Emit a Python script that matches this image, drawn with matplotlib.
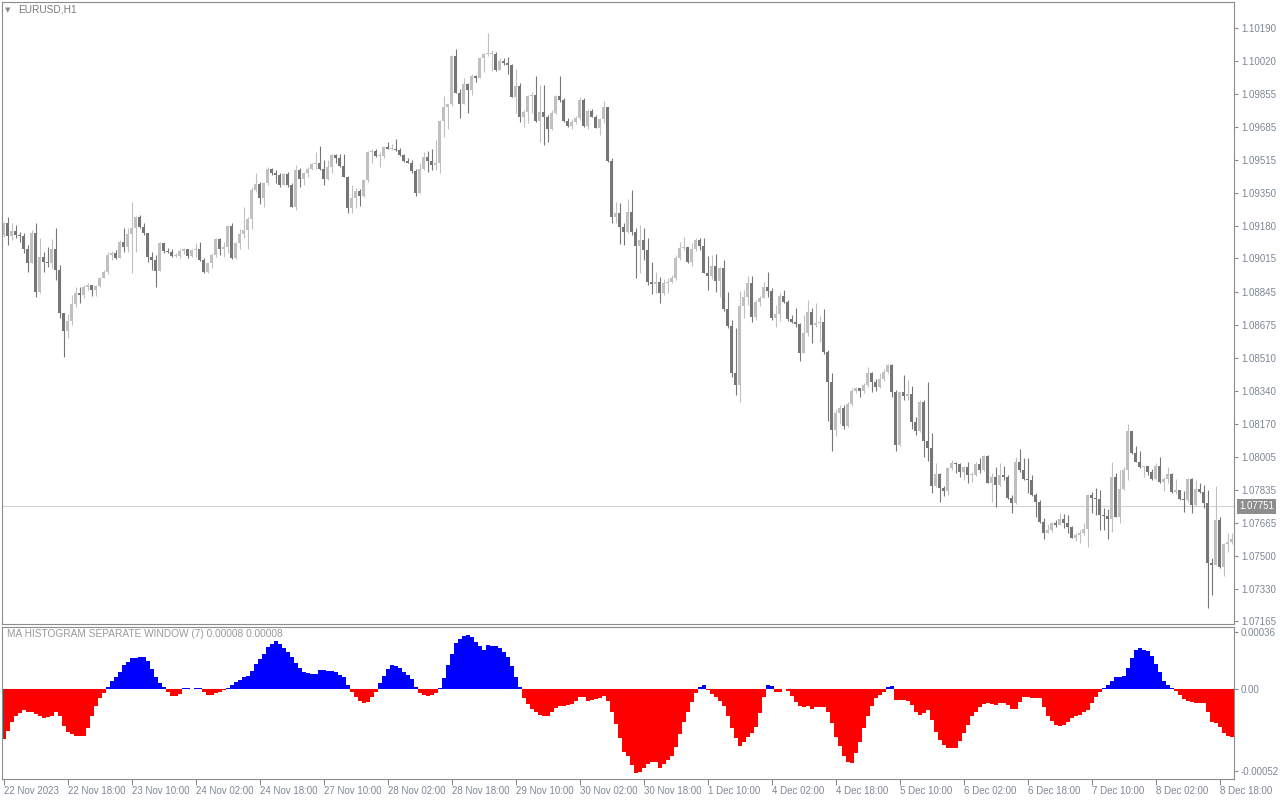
import numpy as np
import matplotlib.pyplot as plt

# EURUSD H1 candles (open of each bar = previous close)
first_open = 1.09134
closes = [
    1.09196, 1.09129, 1.09155, 1.09134, 1.09129, 1.09063, 1.08992, 1.09145, 1.08844, 1.09022,
    1.08997, 1.08992, 1.09063, 1.08956, 1.08737, 1.08645, 1.08696, 1.08783, 1.08839, 1.08828,
    1.08869, 1.08879, 1.08854, 1.08874, 1.08915, 1.08946, 1.09032, 1.09043, 1.09017, 1.09099,
    1.09073, 1.09140, 1.09170, 1.09226, 1.09175, 1.09145, 1.09022, 1.09007, 1.08951, 1.09094,
    1.09053, 1.09048, 1.09027, 1.09027, 1.09053, 1.09063, 1.09027, 1.09058, 1.09063, 1.09007,
    1.08946, 1.08992, 1.09032, 1.09114, 1.09063, 1.09073, 1.09180, 1.09017, 1.09094, 1.09140,
    1.09160, 1.09216, 1.09364, 1.09395, 1.09323, 1.09400, 1.09471, 1.09451, 1.09440, 1.09389,
    1.09446, 1.09389, 1.09277, 1.09466, 1.09420, 1.09451, 1.09471, 1.09497, 1.09502, 1.09471,
    1.09420, 1.09481, 1.09542, 1.09527, 1.09486, 1.09430, 1.09272, 1.09323, 1.09359, 1.09333,
    1.09415, 1.09558, 1.09563, 1.09537, 1.09537, 1.09583, 1.09573, 1.09573, 1.09568, 1.09542,
    1.09512, 1.09502, 1.09461, 1.09349, 1.09471, 1.09532, 1.09512, 1.09491, 1.09502, 1.09716,
    1.09787, 1.09803, 1.10047, 1.09859, 1.09803, 1.09905, 1.09874, 1.09945, 1.09935, 1.10037,
    1.10058, 1.10058, 1.10058, 1.09976, 1.10022, 1.10012, 1.10001, 1.09838, 1.09894, 1.09736,
    1.09762, 1.09843, 1.09848, 1.09716, 1.09762, 1.09736, 1.09675, 1.09757, 1.09843, 1.09823,
    1.09716, 1.09690, 1.09711, 1.09731, 1.09823, 1.09690, 1.09767, 1.09736, 1.09680, 1.09726,
    1.09787, 1.09512, 1.09226, 1.09247, 1.09175, 1.09150, 1.09252, 1.09150, 1.09078, 1.09109,
    1.09058, 1.08895, 1.08885, 1.08895, 1.08839, 1.08890, 1.08895, 1.08915, 1.09017, 1.09068,
    1.09073, 1.08997, 1.09063, 1.09109, 1.09078, 1.08941, 1.08925, 1.08976, 1.08900, 1.08966,
    1.08757, 1.08670, 1.08431, 1.08369, 1.08772, 1.08818, 1.08890, 1.08716, 1.08793, 1.08813,
    1.08869, 1.08849, 1.08711, 1.08732, 1.08823, 1.08793, 1.08706, 1.08691, 1.08681, 1.08533,
    1.08635, 1.08742, 1.08675, 1.08686, 1.08691, 1.08538, 1.08385, 1.08140, 1.08227, 1.08252,
    1.08160, 1.08273, 1.08339, 1.08354, 1.08339, 1.08369, 1.08431, 1.08385, 1.08359, 1.08400,
    1.08436, 1.08471, 1.08334, 1.08063, 1.08334, 1.08313, 1.08324, 1.08181, 1.08135, 1.08283,
    1.08084, 1.08048, 1.07854, 1.07916, 1.07844, 1.07829, 1.07946, 1.07972, 1.07967, 1.07926,
    1.07951, 1.07910, 1.07910, 1.07967, 1.07936, 1.08007, 1.07870, 1.07900, 1.07859, 1.07910,
    1.07900, 1.07793, 1.07768, 1.07977, 1.07936, 1.07890, 1.07885, 1.07808, 1.07773, 1.07671,
    1.07615, 1.07630, 1.07666, 1.07655, 1.07686, 1.07666, 1.07645, 1.07589, 1.07604, 1.07615,
    1.07635, 1.07808, 1.07793, 1.07788, 1.07706, 1.07701, 1.07686, 1.07900, 1.07696, 1.07839,
    1.07936, 1.08135, 1.08023, 1.07977, 1.07951, 1.07956, 1.07926, 1.07890, 1.07956, 1.07875,
    1.07890, 1.07916, 1.07824, 1.07834, 1.07788, 1.07783, 1.07890, 1.07757, 1.07839, 1.07824,
    1.07768, 1.07462, 1.07451, 1.07681, 1.07441, 1.07559, 1.07569, 1.07584,
]
highs = [
    1.09201, 1.09226, 1.09196, 1.09185, 1.09150, 1.09145, 1.09083, 1.09160, 1.09196, 1.09119,
    1.09048, 1.09073, 1.09114, 1.09170, 1.08981, 1.08737, 1.08732, 1.08828, 1.08869, 1.08869,
    1.08879, 1.08890, 1.08879, 1.08879, 1.08920, 1.08956, 1.09048, 1.09053, 1.09058, 1.09109,
    1.09170, 1.09170, 1.09303, 1.09231, 1.09236, 1.09196, 1.09145, 1.09048, 1.09032, 1.09099,
    1.09094, 1.09068, 1.09063, 1.09043, 1.09063, 1.09068, 1.09063, 1.09063, 1.09094, 1.09099,
    1.09017, 1.08992, 1.09043, 1.09119, 1.09119, 1.09099, 1.09185, 1.09196, 1.09099, 1.09165,
    1.09277, 1.09226, 1.09379, 1.09451, 1.09405, 1.09405, 1.09481, 1.09476, 1.09466, 1.09451,
    1.09451, 1.09456, 1.09400, 1.09491, 1.09476, 1.09456, 1.09481, 1.09502, 1.09558, 1.09588,
    1.09517, 1.09517, 1.09548, 1.09548, 1.09548, 1.09548, 1.09435, 1.09389, 1.09374, 1.09369,
    1.09420, 1.09563, 1.09573, 1.09573, 1.09558, 1.09583, 1.09609, 1.09599, 1.09624, 1.09578,
    1.09548, 1.09527, 1.09517, 1.09471, 1.09502, 1.09558, 1.09563, 1.09573, 1.09619, 1.09721,
    1.09843, 1.09803, 1.10052, 1.10083, 1.09879, 1.09935, 1.09910, 1.09956, 1.09950, 1.10042,
    1.10063, 1.10165, 1.10078, 1.10068, 1.10037, 1.10037, 1.10042, 1.10007, 1.09981, 1.09910,
    1.09772, 1.09848, 1.09864, 1.09945, 1.09899, 1.09899, 1.09746, 1.09772, 1.09848, 1.09945,
    1.09833, 1.09731, 1.09726, 1.09741, 1.09838, 1.09833, 1.09777, 1.09777, 1.09746, 1.09731,
    1.09818, 1.09787, 1.09527, 1.09303, 1.09298, 1.09196, 1.09318, 1.09364, 1.09170, 1.09185,
    1.09170, 1.09119, 1.08997, 1.08946, 1.08920, 1.08910, 1.08915, 1.08930, 1.09032, 1.09099,
    1.09124, 1.09073, 1.09094, 1.09119, 1.09119, 1.09119, 1.09027, 1.09032, 1.09038, 1.08971,
    1.09007, 1.08844, 1.08701, 1.08660, 1.08849, 1.08854, 1.08925, 1.08925, 1.08803, 1.08823,
    1.08895, 1.08946, 1.08864, 1.08777, 1.08839, 1.08854, 1.08803, 1.08726, 1.08762, 1.08686,
    1.08726, 1.08803, 1.08762, 1.08788, 1.08721, 1.08757, 1.08548, 1.08431, 1.08247, 1.08267,
    1.08267, 1.08283, 1.08354, 1.08359, 1.08349, 1.08380, 1.08461, 1.08436, 1.08400, 1.08431,
    1.08451, 1.08477, 1.08477, 1.08344, 1.08334, 1.08420, 1.08395, 1.08364, 1.08206, 1.08293,
    1.08293, 1.08385, 1.08125, 1.07972, 1.07921, 1.07854, 1.07951, 1.07987, 1.07977, 1.07972,
    1.07956, 1.07977, 1.07926, 1.07977, 1.07997, 1.08012, 1.08012, 1.07921, 1.07951, 1.07972,
    1.07956, 1.07910, 1.07808, 1.08002, 1.08043, 1.07997, 1.07997, 1.07910, 1.07819, 1.07783,
    1.07691, 1.07661, 1.07671, 1.07681, 1.07717, 1.07712, 1.07706, 1.07650, 1.07615, 1.07630,
    1.07666, 1.07814, 1.07824, 1.07844, 1.07834, 1.07742, 1.07737, 1.07977, 1.07921, 1.07936,
    1.07951, 1.08171, 1.08135, 1.08058, 1.08033, 1.07956, 1.07956, 1.07941, 1.07972, 1.08002,
    1.07900, 1.07951, 1.07921, 1.07890, 1.07834, 1.07829, 1.07895, 1.07895, 1.07885, 1.07870,
    1.07859, 1.07834, 1.07487, 1.07854, 1.07696, 1.07564, 1.07615, 1.07615,
]
lows = [
    1.09124, 1.09083, 1.09109, 1.09119, 1.09099, 1.09043, 1.08946, 1.08992, 1.08818, 1.08839,
    1.08946, 1.08971, 1.08966, 1.08905, 1.08711, 1.08512, 1.08609, 1.08675, 1.08767, 1.08788,
    1.08813, 1.08854, 1.08823, 1.08823, 1.08869, 1.08915, 1.08936, 1.09007, 1.09012, 1.09017,
    1.09048, 1.09048, 1.08941, 1.09048, 1.09170, 1.09134, 1.08997, 1.08956, 1.08869, 1.08951,
    1.09043, 1.09043, 1.09022, 1.09022, 1.09017, 1.09038, 1.09017, 1.09022, 1.09022, 1.09002,
    1.08941, 1.08941, 1.08966, 1.09022, 1.09032, 1.09022, 1.09043, 1.09012, 1.09012, 1.09063,
    1.09119, 1.09063, 1.09165, 1.09354, 1.09293, 1.09277, 1.09389, 1.09440, 1.09400, 1.09379,
    1.09410, 1.09379, 1.09277, 1.09262, 1.09379, 1.09389, 1.09430, 1.09466, 1.09471, 1.09466,
    1.09389, 1.09415, 1.09451, 1.09502, 1.09481, 1.09430, 1.09247, 1.09247, 1.09272, 1.09282,
    1.09328, 1.09405, 1.09502, 1.09532, 1.09481, 1.09527, 1.09573, 1.09568, 1.09563, 1.09537,
    1.09507, 1.09502, 1.09451, 1.09333, 1.09349, 1.09466, 1.09456, 1.09466, 1.09466, 1.09451,
    1.09634, 1.09675, 1.09792, 1.09859, 1.09731, 1.09803, 1.09757, 1.09848, 1.09915, 1.09935,
    1.09966, 1.10047, 1.09971, 1.09971, 1.09976, 1.10001, 1.09956, 1.09838, 1.09757, 1.09711,
    1.09685, 1.09706, 1.09757, 1.09711, 1.09609, 1.09593, 1.09609, 1.09670, 1.09752, 1.09813,
    1.09711, 1.09685, 1.09675, 1.09701, 1.09721, 1.09685, 1.09675, 1.09736, 1.09680, 1.09644,
    1.09706, 1.09507, 1.09196, 1.09196, 1.09089, 1.09083, 1.09145, 1.09134, 1.08915, 1.08941,
    1.09007, 1.08879, 1.08834, 1.08839, 1.08788, 1.08828, 1.08839, 1.08890, 1.08905, 1.09007,
    1.09058, 1.08992, 1.08976, 1.09053, 1.09058, 1.08941, 1.08854, 1.08910, 1.08844, 1.08818,
    1.08747, 1.08660, 1.08410, 1.08318, 1.08283, 1.08711, 1.08777, 1.08691, 1.08701, 1.08772,
    1.08813, 1.08818, 1.08701, 1.08665, 1.08696, 1.08788, 1.08696, 1.08686, 1.08665, 1.08492,
    1.08533, 1.08619, 1.08584, 1.08665, 1.08589, 1.08528, 1.08186, 1.08033, 1.08109, 1.08171,
    1.08145, 1.08155, 1.08262, 1.08329, 1.08308, 1.08329, 1.08359, 1.08334, 1.08339, 1.08354,
    1.08390, 1.08431, 1.08308, 1.08033, 1.08058, 1.08293, 1.08293, 1.08145, 1.08114, 1.08130,
    1.08002, 1.07982, 1.07819, 1.07849, 1.07773, 1.07803, 1.07808, 1.07936, 1.07921, 1.07900,
    1.07885, 1.07870, 1.07875, 1.07905, 1.07921, 1.07931, 1.07870, 1.07773, 1.07747, 1.07854,
    1.07885, 1.07788, 1.07717, 1.07763, 1.07926, 1.07885, 1.07819, 1.07803, 1.07696, 1.07666,
    1.07584, 1.07615, 1.07620, 1.07645, 1.07655, 1.07640, 1.07615, 1.07589, 1.07574, 1.07564,
    1.07604, 1.07543, 1.07717, 1.07706, 1.07630, 1.07630, 1.07584, 1.07620, 1.07696, 1.07666,
    1.07834, 1.07885, 1.08018, 1.07977, 1.07946, 1.07900, 1.07910, 1.07885, 1.07885, 1.07870,
    1.07829, 1.07870, 1.07819, 1.07814, 1.07783, 1.07722, 1.07773, 1.07717, 1.07752, 1.07819,
    1.07742, 1.07232, 1.07298, 1.07462, 1.07436, 1.07395, 1.07518, 1.07559,
]

# MA histogram (separate window)
hist = [
    -0.000317, -0.000264, -0.000207, -0.000173, -0.000152, -0.000131, -0.000144, -0.000147, -0.000158, -0.000173,
    -0.000185, -0.000179, -0.000169, -0.000147, -0.000173, -0.000232, -0.000270, -0.000287, -0.000296, -0.000299,
    -0.000299, -0.000249, -0.000169, -0.000106, -0.000055, -0.000027, 0.000015, 0.000053, 0.000078, 0.000110,
    0.000152, 0.000173, 0.000198, 0.000198, 0.000204, 0.000204, 0.000179, 0.000127, 0.000078, 0.000038,
    0.000015, -0.000021, -0.000046, -0.000046, -0.000034, 0.000003, 0.000004, -0.000002, 0.000004, 0.000004,
    -0.000017, -0.000036, -0.000038, -0.000027, -0.000021, -0.000009, 0.000004, 0.000025, 0.000046, 0.000059,
    0.000074, 0.000084, 0.000116, 0.000158, 0.000190, 0.000222, 0.000268, 0.000285, 0.000306, 0.000285,
    0.000258, 0.000236, 0.000204, 0.000165, 0.000133, 0.000110, 0.000099, 0.000095, 0.000095, 0.000122,
    0.000122, 0.000116, 0.000116, 0.000106, 0.000089, 0.000074, 0.000025, -0.000017, -0.000049, -0.000074,
    -0.000091, -0.000080, -0.000049, -0.000017, 0.000038, 0.000084, 0.000127, 0.000152, 0.000147, 0.000131,
    0.000110, 0.000089, 0.000066, 0.000015, -0.000027, -0.000038, -0.000046, -0.000038, -0.000027, 0.000004,
    0.000070, 0.000152, 0.000222, 0.000291, 0.000317, 0.000337, 0.000344, 0.000327, 0.000299, 0.000274,
    0.000249, 0.000280, 0.000274, 0.000274, 0.000258, 0.000236, 0.000204, 0.000147, 0.000074, 0.000015,
    -0.000059, -0.000097, -0.000127, -0.000147, -0.000165, -0.000169, -0.000169, -0.000147, -0.000122, -0.000106,
    -0.000106, -0.000101, -0.000097, -0.000076, -0.000053, -0.000053, -0.000076, -0.000070, -0.000063, -0.000059,
    -0.000044, -0.000078, -0.000147, -0.000223, -0.000312, -0.000397, -0.000426, -0.000481, -0.000532, -0.000527,
    -0.000502, -0.000477, -0.000460, -0.000464, -0.000502, -0.000475, -0.000449, -0.000426, -0.000369, -0.000287,
    -0.000207, -0.000147, -0.000084, -0.000027, 0.000015, 0.000027, -0.000006, -0.000032, -0.000053, -0.000074,
    -0.000106, -0.000169, -0.000249, -0.000312, -0.000363, -0.000334, -0.000306, -0.000280, -0.000242, -0.000154,
    -0.000053, 0.000027, 0.000021, -0.000021, -0.000021, 0.000002, -0.000015, -0.000046, -0.000080, -0.000110,
    -0.000116, -0.000110, -0.000127, -0.000116, -0.000116, -0.000114, -0.000146, -0.000218, -0.000306, -0.000363,
    -0.000426, -0.000460, -0.000468, -0.000407, -0.000334, -0.000249, -0.000173, -0.000110, -0.000059, -0.000038,
    -0.000017, 0.000015, 0.000021, -0.000072, -0.000072, -0.000072, -0.000076, -0.000099, -0.000147, -0.000163,
    -0.000152, -0.000131, -0.000196, -0.000270, -0.000321, -0.000353, -0.000375, -0.000372, -0.000372, -0.000329,
    -0.000277, -0.000226, -0.000173, -0.000144, -0.000116, -0.000097, -0.000089, -0.000093, -0.000103, -0.000089,
    -0.000089, -0.000101, -0.000127, -0.000127, -0.000084, -0.000053, -0.000049, -0.000055, -0.000059, -0.000059,
    -0.000112, -0.000169, -0.000204, -0.000228, -0.000236, -0.000228, -0.000211, -0.000185, -0.000169, -0.000165,
    -0.000144, -0.000131, -0.000089, -0.000053, -0.000021, 0.000008, 0.000025, 0.000053, 0.000078, 0.000074,
    0.000084, 0.000133, 0.000196, 0.000249, 0.000258, 0.000249, 0.000242, 0.000211, 0.000158, 0.000106,
    0.000053, 0.000025, 0.000008, -0.000015, -0.000036, -0.000063, -0.000078, -0.000080, -0.000091, -0.000091,
    -0.000091, -0.000147, -0.000207, -0.000217, -0.000242, -0.000280, -0.000299, -0.000306,
]

price_ticks = [1.10190, 1.10020, 1.09855, 1.09685, 1.09515, 1.09350, 1.09180, 1.09015, 1.08845,
               1.08675, 1.08510, 1.08340, 1.08170, 1.08005, 1.07835, 1.07665, 1.07500, 1.07330, 1.07165]
hist_ticks = [0.00036, 0.0, -0.00052]
hist_tick_labels = ["0.00036", "0.00", "-0.00052"]
time_labels = ["22 Nov 2023", "22 Nov 18:00", "23 Nov 10:00", "24 Nov 02:00", "24 Nov 18:00",
               "27 Nov 10:00", "28 Nov 02:00", "28 Nov 18:00", "29 Nov 10:00", "30 Nov 02:00",
               "30 Nov 18:00", "1 Dec 10:00", "4 Dec 02:00", "4 Dec 18:00", "5 Dec 10:00",
               "6 Dec 02:00", "6 Dec 18:00", "7 Dec 10:00", "8 Dec 02:00", "8 Dec 18:00"]
label_step = 16
last_price = 1.07751

assert len(closes) == len(highs) == len(lows) == len(hist)

plt.rcParams['font.family'] = ['Liberation Sans', 'DejaVu Sans']

UP = '#c0c0c0'
DOWN = '#767676'
FRAME = '#8c8c8c'
TXT = '#7d8796'

n = len(closes)
x = np.arange(n)
c = np.array(closes)
o = np.concatenate([[first_open], c[:-1]])
hi = np.maximum(np.array(highs), np.maximum(o, c))
lo = np.minimum(np.array(lows), np.minimum(o, c))
col = np.where(c >= o, UP, DOWN)

W, H = 1280, 800
def box(l, t, r, b):
    return [l / W, 1 - b / H, (r - l) / W, (b - t) / H]

fig = plt.figure(figsize=(12.8, 8), dpi=100)
ax = fig.add_axes(box(2, 2, 1234, 624))
axh = fig.add_axes(box(2, 627, 1234, 779))

# --- price panel
ax.vlines(x, lo, hi, colors=col, linewidth=0.8)
body = np.maximum(np.abs(c - o), 0.00004)
ax.bar(x, body, bottom=np.minimum(o, c), width=0.75, color=col, linewidth=0)
ax.axhline(last_price, color='#d2d2d2', linewidth=0.8, zorder=0)

ax.set_xlim(-0.375, n - 0.375)
ax.set_ylim(1.07151, 1.10323)
ax.yaxis.tick_right()
ax.set_yticks(price_ticks)
ax.set_yticklabels([f"{v:.5f}" for v in price_ticks])
ax.tick_params(axis='y', length=3, width=0.8, color=FRAME, pad=2, labelsize=7, labelcolor=TXT)
ax.tick_params(axis='x', bottom=False, labelbottom=False)
for s in ax.spines.values():
    s.set_color(FRAME)
    s.set_linewidth(0.8)

ax.annotate(f"{last_price:.5f}", xy=(1.0, last_price), xycoords=('axes fraction', 'data'),
            xytext=(5, 0), textcoords='offset pixels', ha='left', va='center',
            fontsize=7, color='white',
            bbox=dict(boxstyle='square,pad=0.25', fc='#8d8d8d', ec='none'))

fig.text(5 / W, 1 - 10 / H, "\u25bc", fontsize=5, color='#888888', va='center',
         family='DejaVu Sans')
fig.text(18 / W, 1 - 10 / H, "EURUSD,H1", fontsize=7.3, color='#7a7a7a', va='center')

# --- histogram panel
hv = np.array(hist)
axh.bar(x, hv, width=1.0, color=np.where(hv > 0, '#0000ff', '#ff0000'),
        linewidth=0, antialiased=False)
axh.set_xlim(-0.375, n - 0.375)
axh.set_ylim(-0.000570, 0.000392)
axh.yaxis.tick_right()
axh.set_yticks(hist_ticks)
axh.set_yticklabels(hist_tick_labels)
axh.tick_params(axis='y', length=3, width=0.8, color=FRAME, pad=2, labelsize=7, labelcolor=TXT)
axh.set_xticks(np.arange(0, n, label_step)[:len(time_labels)])
axh.set_xticklabels(time_labels)
axh.tick_params(axis='x', length=4, width=0.8, color=FRAME, pad=1, labelsize=7, labelcolor=TXT)
for lbl in axh.get_xticklabels():
    lbl.set_horizontalalignment('left')
for s in axh.spines.values():
    s.set_color(FRAME)
    s.set_linewidth(0.8)

fig.text(7 / W, 1 - 634 / H, "MA HISTOGRAM SEPARATE WINDOW (7) 0.00008 0.00008",
         fontsize=7.3, color='#9a9a9a', va='center')

fig.savefig("out.png", dpi=100, facecolor='white')
